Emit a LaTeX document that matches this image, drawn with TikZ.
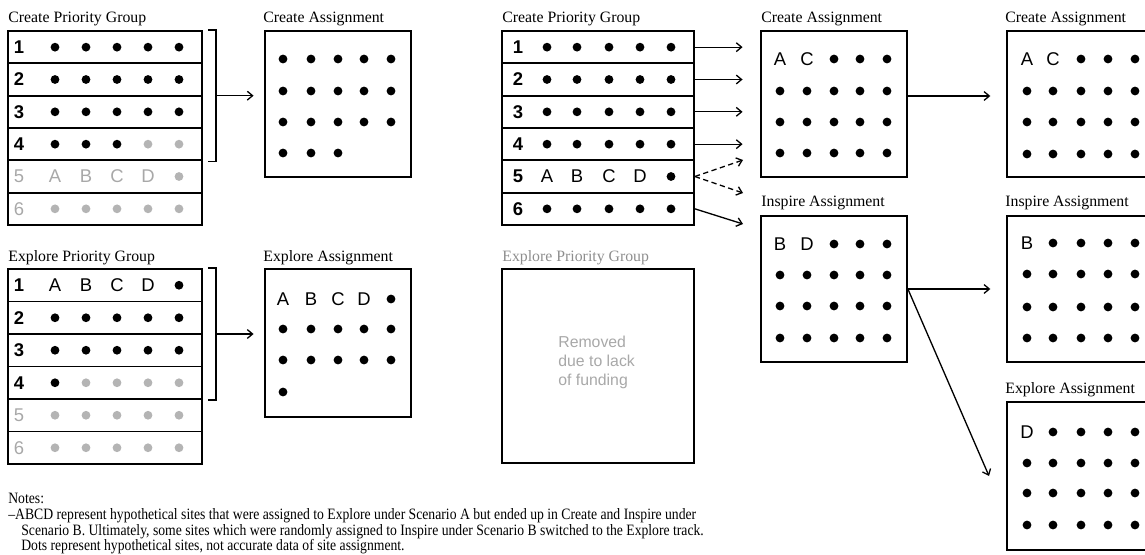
\documentclass[tikz,border=0pt]{standalone}
\usepackage{fontspec}
\usepackage{graphicx}
\setmainfont{Liberation Serif}
\setsansfont{Liberation Sans}
\usetikzlibrary{arrows.meta,fit,calc}
\definecolor{gtext}{HTML}{A8A8A8}
\definecolor{gdotc}{HTML}{B4B4B4}
\definecolor{gtitle}{HTML}{8E8E8E}
\tikzset{
  frame/.style={draw, line width=1pt, inner sep=0pt},
  bdot/.style={circle, fill=black, inner sep=0pt, minimum size=5pt},
  gdot/.style={circle, fill=gdotc, inner sep=0pt, minimum size=5pt},
  tb/.style={font=\sffamily\fontsize{10.5}{12}\selectfont, inner sep=0pt},
  tg/.style={tb, text=gtext},
  nb/.style={font=\sffamily\bfseries\fontsize{10.5}{12}\selectfont, inner sep=0pt},
  ng/.style={tb, text=gtext},
  ttl/.style={font=\fontsize{9}{11}\selectfont, anchor=base west, inner sep=0pt},
  note/.style={font=\fontsize{9}{11}\selectfont, anchor=base west, inner sep=0pt},
  conn/.style={line width=0.75pt},
  arr/.style={line width=0.75pt, -{Straight Barb[length=3pt,width=5pt]}},
}
\newcommand\DotB[2]{\node[bdot] (#1) at (#2) {};}
\newcommand\DotG[2]{\node[gdot] (#1) at (#2) {};}
\newcommand\T[4]{\node[#1] (#3) at (#4) {#2};}
\newcommand\trow[4]{\foreach \itm [count=\c] in {#4} {\pgfmathsetmacro\xx{{#3}[\c-1]}\itm{#1-\c}{\xx,#2}}}
\newcommand\sq[1]{\scalebox{0.865}[1]{#1}}
\begin{document}
\begin{tikzpicture}[x=0.02cm,y=-0.02cm]
\useasboundingbox (0,0) rectangle (1145,554);
\clip (0,0) rectangle (1145,554);

% ---------- titles ----------
\node[ttl] (t1) at (8,23) {Create Priority Group};
\node[ttl] (t2) at (263,23) {Create Assignment};
\node[ttl] (t3) at (8,261) {Explore Priority Group};
\node[ttl] (t4) at (263,261) {Explore Assignment};
\node[ttl] (t5) at (502,23) {Create Priority Group};
\node[ttl] (t6) at (761,23) {Create Assignment};
\node[ttl] (t7) at (761,206) {Inspire Assignment};
\node[ttl, text=gtitle] (t8) at (502,261) {Explore Priority Group};
\node[ttl] (t9) at (1005,23) {Create Assignment};
\node[ttl] (t10) at (1005,206) {Inspire Assignment};
\node[ttl] (t11) at (1005,393) {Explore Assignment};

% ---------- left top table ----------
\foreach \i in {1,...,6}
  \node[frame, fit={(8,{31+(\i-1)*32.333}) (202,{31+\i*32.333})}] (ta\i) {};
\trow{ta1c}{47.17}{19,55,86,117,148,179}{\T{nb}{1},\DotB,\DotB,\DotB,\DotB,\DotB}
\trow{ta2c}{79.5}{19,55,86,117,148,179}{\T{nb}{2},\DotB,\DotB,\DotB,\DotB,\DotB}
\trow{ta3c}{111.83}{19,55,86,117,148,179}{\T{nb}{3},\DotB,\DotB,\DotB,\DotB,\DotB}
\trow{ta4c}{144.17}{19,55,86,117,148,179}{\T{nb}{4},\DotB,\DotB,\DotB,\DotG,\DotG}
\trow{ta5c}{176.5}{19,55,86,117,148,179}{\T{ng}{5},\T{tg}{A},\T{tg}{B},\T{tg}{C},\T{tg}{D},\DotG}
\trow{ta6c}{208.83}{19,55,86,117,148,179}{\T{ng}{6},\DotG,\DotG,\DotG,\DotG,\DotG}

% ---------- left top assignment ----------
\node[frame, fit={(265,31) (411,177)}] (caA) {};
\trow{caA1}{59}{283,311,338,364,391}{\DotB,\DotB,\DotB,\DotB,\DotB}
\trow{caA2}{91}{283,311,338,364,391}{\DotB,\DotB,\DotB,\DotB,\DotB}
\trow{caA3}{122}{283,311,338,364,391}{\DotB,\DotB,\DotB,\DotB,\DotB}
\trow{caA4}{153}{283,311,338,364,391}{\DotB,\DotB,\DotB}

\draw[conn] ($(ta1.north east)+(5,0)$) -| ($(ta4.south east)+(13,0)$) -- ($(ta4.south east)+(5,0)$);
\coordinate (brA) at ($(ta1.north east)!0.5!(ta4.south east)+(13,0)$);
\draw[arr, shorten >=6pt] (brA) -- (brA -| caA.west);

% ---------- left bottom table ----------
\foreach \i in {1,...,6}
  \node[frame, fit={(8,{269+(\i-1)*32.5}) (202,{269+\i*32.5})}] (tb\i) {};
\trow{tb1c}{285.25}{19,55,86,117,148,179}{\T{nb}{1},\T{tb}{A},\T{tb}{B},\T{tb}{C},\T{tb}{D},\DotB}
\trow{tb2c}{317.75}{19,55,86,117,148,179}{\T{nb}{2},\DotB,\DotB,\DotB,\DotB,\DotB}
\trow{tb3c}{350.25}{19,55,86,117,148,179}{\T{nb}{3},\DotB,\DotB,\DotB,\DotB,\DotB}
\trow{tb4c}{382.75}{19,55,86,117,148,179}{\T{nb}{4},\DotB,\DotG,\DotG,\DotG,\DotG}
\trow{tb5c}{415.25}{19,55,86,117,148,179}{\T{ng}{5},\DotG,\DotG,\DotG,\DotG,\DotG}
\trow{tb6c}{447.75}{19,55,86,117,148,179}{\T{ng}{6},\DotG,\DotG,\DotG,\DotG,\DotG}

% ---------- left bottom assignment ----------
\node[frame, fit={(265,269) (411,417)}] (ceA) {};
\trow{ceA1}{299}{283,311,338,364,391}{\T{tb}{A},\T{tb}{B},\T{tb}{C},\T{tb}{D},\DotB}
\trow{ceA2}{329}{283,311,338,364,391}{\DotB,\DotB,\DotB,\DotB,\DotB}
\trow{ceA3}{360}{283,311,338,364,391}{\DotB,\DotB,\DotB,\DotB,\DotB}
\trow{ceA4}{392}{283,311,338,364,391}{\DotB}

\draw[conn] ($(tb1.north east)+(5,0)$) -| ($(tb4.south east)+(13,0)$) -- ($(tb4.south east)+(5,0)$);
\coordinate (brB) at ($(tb1.north east)!0.5!(tb4.south east)+(13,0)$);
\draw[arr, shorten >=6pt] (brB) -- (brB -| ceA.west);

% ---------- middle table ----------
\foreach \i in {1,...,6}
  \node[frame, fit={(502,{31+(\i-1)*32.333}) (694,{31+\i*32.333})}] (tm\i) {};
\trow{tm1c}{47.17}{518,547,577,609,640,671}{\T{nb}{1},\DotB,\DotB,\DotB,\DotB,\DotB}
\trow{tm2c}{79.5}{518,547,577,609,640,671}{\T{nb}{2},\DotB,\DotB,\DotB,\DotB,\DotB}
\trow{tm3c}{111.83}{518,547,577,609,640,671}{\T{nb}{3},\DotB,\DotB,\DotB,\DotB,\DotB}
\trow{tm4c}{144.17}{518,547,577,609,640,671}{\T{nb}{4},\DotB,\DotB,\DotB,\DotB,\DotB}
\trow{tm5c}{176.5}{518,547,577,609,640,671}{\T{nb}{5},\T{tb}{A},\T{tb}{B},\T{tb}{C},\T{tb}{D},\DotB}
\trow{tm6c}{208.83}{518,547,577,609,640,671}{\T{nb}{6},\DotB,\DotB,\DotB,\DotB,\DotB}

% ---------- removed explore group ----------
\node[frame, fit={(502,269) (694,463)}] (mep) {};
\node[font=\sffamily\fontsize{9}{10.8}\selectfont, text=gtext, align=left, anchor=west, inner sep=0pt] (rem) at (558,362) {Removed\\due to lack\\of funding};

% ---------- middle assignments ----------
\node[frame, fit={(761,31) (907,177)}] (mca) {};
\trow{mca1}{59}{780,807,834,860,887}{\T{tb}{A},\T{tb}{C},\DotB,\DotB,\DotB}
\trow{mca2}{91}{780,807,834,860,887}{\DotB,\DotB,\DotB,\DotB,\DotB}
\trow{mca3}{122}{780,807,834,860,887}{\DotB,\DotB,\DotB,\DotB,\DotB}
\trow{mca4}{153}{780,807,834,860,887}{\DotB,\DotB,\DotB,\DotB,\DotB}

\node[frame, fit={(761,216) (907,362)}] (mia) {};
\trow{mia1}{244}{780,807,834,860,887}{\T{tb}{B},\T{tb}{D},\DotB,\DotB,\DotB}
\trow{mia2}{275}{780,807,834,860,887}{\DotB,\DotB,\DotB,\DotB,\DotB}
\trow{mia3}{306}{780,807,834,860,887}{\DotB,\DotB,\DotB,\DotB,\DotB}
\trow{mia4}{338}{780,807,834,860,887}{\DotB,\DotB,\DotB,\DotB,\DotB}

% arrows from middle table
\foreach \i in {1,2,3,4}
  \draw[arr, shorten >=10pt] (tm\i.east) -- (tm\i.east -| mca.west);
\coordinate (d1) at (743,160);
\coordinate (d2) at (743,193);
\coordinate (d3) at (743,224);
\draw[arr, dashed, dash pattern=on 3pt off 2pt] (tm5.east) -- (d1);
\draw[arr, dashed, dash pattern=on 3pt off 2pt] (tm5.east) -- (d2);
\draw[arr] (tm6.east) -- (d3);

% ---------- right assignments ----------
\node[frame, fit={(1007,31) (1165,177)}] (rca) {};
\trow{rca1}{59}{1027,1053,1081,1108,1135}{\T{tb}{A},\T{tb}{C},\DotB,\DotB,\DotB}
\trow{rca2}{91}{1027,1053,1081,1108,1135}{\DotB,\DotB,\DotB,\DotB,\DotB}
\trow{rca3}{122}{1027,1053,1081,1108,1135}{\DotB,\DotB,\DotB,\DotB,\DotB}
\trow{rca4}{154}{1027,1053,1081,1108,1135}{\DotB,\DotB,\DotB,\DotB,\DotB}

\node[frame, fit={(1007,216) (1165,362)}] (ria) {};
\trow{ria1}{243}{1027,1053,1081,1108,1135}{\T{tb}{B},\DotB,\DotB,\DotB,\DotB}
\trow{ria2}{274}{1027,1053,1081,1108,1135}{\DotB,\DotB,\DotB,\DotB,\DotB}
\trow{ria3}{307}{1027,1053,1081,1108,1135}{\DotB,\DotB,\DotB,\DotB,\DotB}
\trow{ria4}{338}{1027,1053,1081,1108,1135}{\DotB,\DotB,\DotB,\DotB,\DotB}

\node[frame, fit={(1007,402) (1165,550)}] (rea) {};
\trow{rea1}{432}{1027,1053,1081,1108,1135}{\T{tb}{D},\DotB,\DotB,\DotB,\DotB}
\trow{rea2}{463}{1027,1053,1081,1108,1135}{\DotB,\DotB,\DotB,\DotB,\DotB}
\trow{rea3}{493}{1027,1053,1081,1108,1135}{\DotB,\DotB,\DotB,\DotB,\DotB}
\trow{rea4}{525}{1027,1053,1081,1108,1135}{\DotB,\DotB,\DotB,\DotB,\DotB}

\coordinate (o1) at ($(mca.east)+(0,-8)$);
\draw[arr, shorten >=9pt] (o1) -- (o1 -| rca.west);
\draw[arr, shorten >=9pt] (mia.east) -- (mia.east -| ria.west);
\coordinate (d4) at (989,476);
\draw[arr] (mia.east) -- (d4);

% ---------- notes ----------
\node[note] (n1) at (8,503) {\sq{Notes:}};
\node[note] (n2) at (8,519) {\sq{--ABCD represent hypothetical sites that were assigned to Explore under Scenario A but ended up in Create and Inspire under}};
\node[note] (n3) at (21,535) {\sq{Scenario B. Ultimately, some sites which were randomly assigned to Inspire under Scenario B switched to the Explore track.}};
\node[note] (n4) at (21,550) {\sq{Dots represent hypothetical sites, not accurate data of site assignment.}};
\end{tikzpicture}
\end{document}
